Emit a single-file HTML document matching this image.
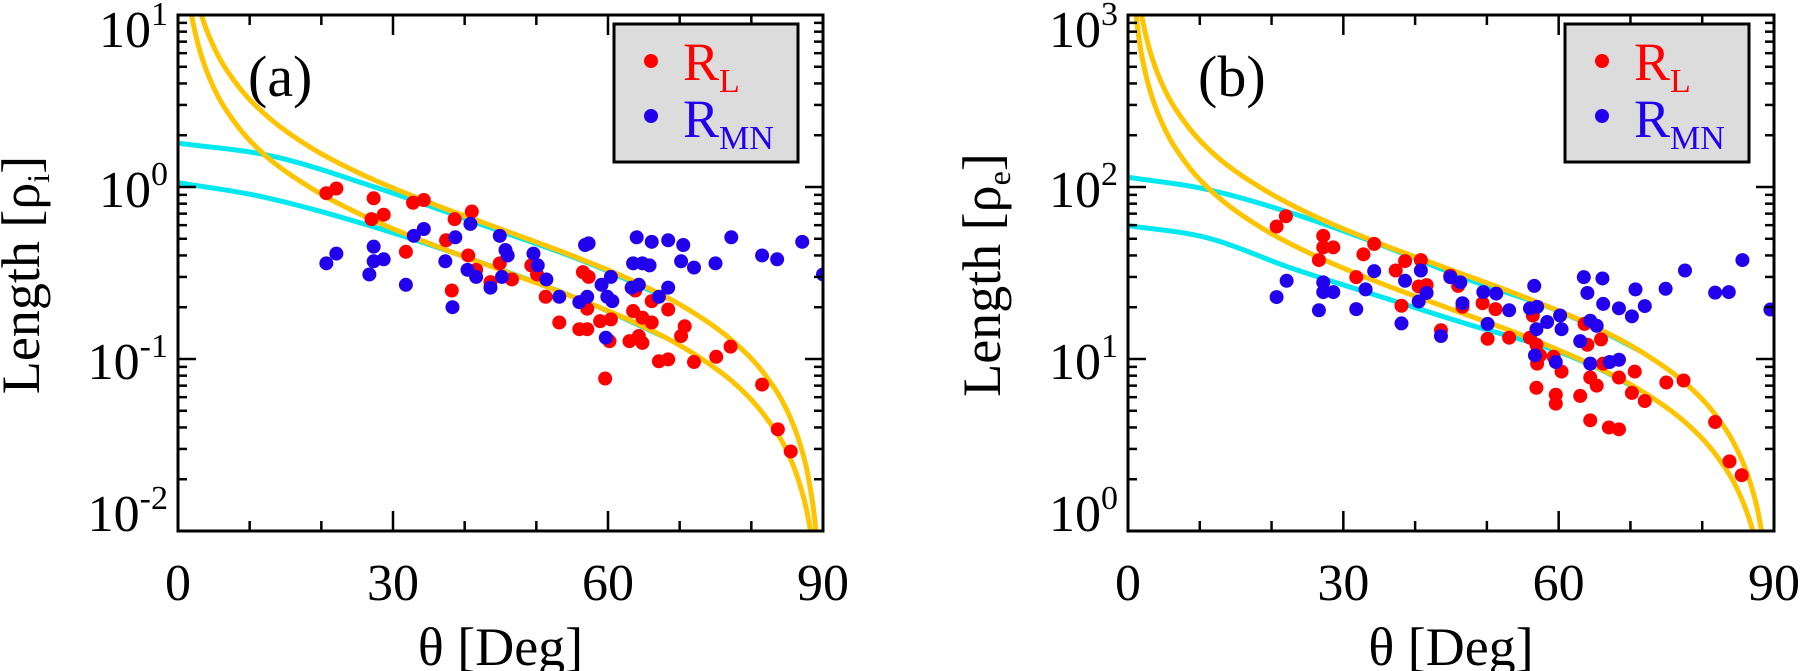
<!DOCTYPE html>
<html><head><meta charset="utf-8"><style>
html,body{margin:0;padding:0;background:#fff}
svg{display:block}
text{font-family:"Liberation Serif","Times New Roman","DejaVu Serif",serif;fill:#000}
</style></head><body>
<svg id="chart" xmlns="http://www.w3.org/2000/svg" width="1800" height="671" viewBox="0 0 1800 671" font-family="Liberation Serif, Times New Roman, serif">
</svg>
<script>
// ---------- Panel (a) data ----------
const redA_theta=[20.7,22.1,27.3,27.0,28.7,32.8,34.3,31.8,37.4,38.6,41.0,38.2,40.5,41.6,43.6,44.9,46.6,49.3,50.1,51.3,53.2,56.0,57.1,56.5,57.3,57.1,58.9,60.4,60.2,59.6,63.0,64.3,64.8,63.8,63.5,64.8,66.1,66.1,68.4,67.1,68.4,70.7,70.2,72.0,75.1,77.1,81.5,83.7,85.5];
const redA_val=[0.92,0.98,0.86,0.65,0.69,0.81,0.84,0.42,0.49,0.65,0.72,0.25,0.40,0.33,0.28,0.36,0.29,0.35,0.31,0.23,0.163,0.149,0.149,0.32,0.30,0.196,0.166,0.17,0.127,0.077,0.127,0.136,0.124,0.25,0.19,0.174,0.217,0.163,0.194,0.097,0.0995,0.155,0.136,0.096,0.103,0.118,0.071,0.039,0.029];
const blueA_theta=[20.7,22.1,27.3,27.3,28.7,26.7,31.8,34.3,32.9,37.3,38.7,40.8,38.3,40.4,41.6,43.6,44.9,45.7,46.0,45.2,49.6,50.2,51.4,53.2,56.0,56.8,57.3,57.1,59.1,60.4,59.9,60.6,59.7,63.3,63.5,64.8,65.8,64.3,64.0,66.1,68.4,70.5,70.2,72.0,75.0,67.1,68.4,77.2,81.5,83.6,87.1,90.0];
const blueA_val=[0.36,0.41,0.45,0.37,0.38,0.31,0.27,0.57,0.52,0.37,0.51,0.61,0.20,0.33,0.30,0.26,0.52,0.43,0.40,0.30,0.41,0.35,0.29,0.23,0.214,0.46,0.47,0.23,0.27,0.30,0.23,0.217,0.133,0.26,0.36,0.36,0.35,0.27,0.51,0.48,0.49,0.46,0.37,0.34,0.36,0.23,0.26,0.51,0.40,0.38,0.48,0.31];
const curveTheta=[1,1.5,2,3,5,8,12,18,25,35,45,55,65,72,78,82,85,87,88,89,89.5];
const orangeUpA_val=[32.7,21.8,16.3,10.9,6.52,4.06,2.68,1.75,1.22,0.814,0.57,0.399,0.266,0.185,0.121,0.080,0.050,0.030,0.020,0.0100,0.0050];
const orangeLoA_val=[18.9,12.6,9.45,6.30,3.77,2.35,1.55,1.02,0.708,0.471,0.33,0.231,0.154,0.107,0.070,0.046,0.029,0.0173,0.0115,0.0058,0.0029];
const cyanUpA_theta=[0,13.2,27.1,42.6,58.1,68.4];
const cyanUpA_val=[1.80,1.51,1.01,0.60,0.35,0.224];
const cyanLoA_theta=[0,11.6,27.1,42.6,58.1,68.4];
const cyanLoA_val=[1.06,0.88,0.59,0.36,0.205,0.131];
const ticksA_exp=[1,0,-1,-2];
// ---------- Panel (b) data ----------
const redB_theta=[20.7,22.0,27.2,27.2,28.6,26.6,32.8,34.3,31.8,37.3,38.6,40.8,38.1,40.5,41.6,43.6,44.9,46.0,46.6,49.4,50.1,51.2,53.1,56.4,56.0,56.9,57.4,57.0,56.9,59.6,59.6,60.4,59.3,63.0,63.6,64.0,65.9,64.4,65.3,64.4,67.0,68.4,66.2,68.4,70.6,70.2,72.0,75.0,77.4,81.8,83.8,85.5];
const redB_val=[58.9,67.6,52.0,44.6,44.6,37.6,40.6,46.7,29.9,32.7,37.1,37.6,20.4,26.4,26.9,14.7,30.5,26.6,20.1,21.1,13.1,19.5,13.3,17.9,13.3,12.1,10.5,9.4,6.8,6.2,5.5,8.45,10.3,6.1,16.0,12.1,13.0,7.8,7.0,4.4,4.0,3.9,9.4,7.8,8.45,6.35,5.7,7.3,7.5,4.3,2.54,2.11];
const blueB_theta=[20.7,22.1,27.2,27.2,28.6,26.6,31.8,34.3,33.1,38.6,38.1,40.8,40.5,41.6,43.6,44.9,46.3,46.6,49.5,51.3,50.1,53.1,56.0,56.6,57.0,56.9,58.4,60.2,60.4,56.7,59.6,63.5,64.0,66.1,66.2,64.4,65.3,63.0,64.4,68.4,67.1,68.4,70.2,70.7,72.0,74.9,77.6,81.8,83.7,85.6,89.5];
const blueB_val=[22.9,28.5,27.9,24.5,24.5,19.2,19.5,32.4,25.4,28.5,16.1,32.7,21.6,24.2,13.6,29.9,27.9,21.1,24.5,24.0,16.0,19.2,19.7,26.6,20.1,14.9,16.4,17.9,14.9,10.5,9.6,29.9,24.2,29.4,20.9,16.7,15.6,12.7,9.4,9.9,9.6,19.7,17.7,25.4,20.3,25.6,32.7,24.3,24.5,37.6,19.4];
const orangeUpB_val=[1890,1260,945,630,377,235,155,102,70.8,47.1,33,23.1,15.4,10.7,7.02,4.64,2.89,1.73,1.15,0.576,0.288];
const orangeLoB_val=[1117,745,558,372,223,139,91.7,60.0,41.8,27.8,19.5,13.7,9.09,6.34,4.15,2.74,1.71,1.02,0.68,0.34,0.17];
const cyanUpB_theta=[0,10.9,23.0,35.1,47.2,59.3,65.3,71.4];
const cyanUpB_val=[114,97,70,46.3,29.2,19.5,15.0,11.1];
const cyanLoB_theta=[0,10.9,23.0,35.1,47.2,59.3,65.3,71.4];
const cyanLoB_val=[59.7,50.8,33.5,23.1,16.0,11.3,8.9,6.55];
const ticksB_exp=[3,2,1,0];
const xTickLabels=["0","30","60","90"];
const xTickValues=[0,30,60,90];

const NS="http://www.w3.org/2000/svg";
const FONT='"Liberation Serif","Times New Roman","DejaVu Serif",serif';
const svg=document.getElementById('chart');
function mk(tag,attrs,parent){const e=document.createElementNS(NS,tag);for(const k in attrs)e.setAttribute(k,attrs[k]);if(tag==='text')e.style.fontFamily=FONT;(parent||svg).appendChild(e);return e;}

function monotone(xs,ys){
  const n=xs.length,d=[],m=new Array(n);
  for(let i=0;i<n-1;i++)d.push((ys[i+1]-ys[i])/(xs[i+1]-xs[i]));
  m[0]=d[0];m[n-1]=d[n-2];
  for(let i=1;i<n-1;i++){m[i]=(d[i-1]*d[i]<=0)?0:(d[i-1]+d[i])/2;}
  for(let i=0;i<n-1;i++){
    if(d[i]===0){m[i]=0;m[i+1]=0;continue;}
    const a=m[i]/d[i],b=m[i+1]/d[i],s=a*a+b*b;
    if(s>9){const t=3/Math.sqrt(s);m[i]=t*a*d[i];m[i+1]=t*b*d[i];}
  }
  return function(x){
    let i=0;while(i<n-2&&x>xs[i+1])i++;
    const h=xs[i+1]-xs[i],t=(x-xs[i])/h,t2=t*t,t3=t2*t;
    return (2*t3-3*t2+1)*ys[i]+(t3-2*t2+t)*h*m[i]+(-2*t3+3*t2)*ys[i+1]+(t3-t2)*h*m[i+1];
  };
}

function drawPanel(cfg){
  const g=mk('g',{});
  
  
  const L=cfg.x0,R=cfg.x1,T=15,B=531;
  const lmin=cfg.expMin,lmax=cfg.expMax;
  const sx=t=>L+(t/90)*(R-L);
  const syl=l=>B-(l-lmin)/(lmax-lmin)*(B-T);
  const sy=v=>syl(Math.log10(v));
  const clipId='clip'+cfg.id;
  const cp=mk('clipPath',{id:clipId},g);
  mk('rect',{x:L,y:T,width:R-L,height:B-T},cp);
  const plot=mk('g',{'clip-path':'url(#'+clipId+')'},g);
  
  
  function curve(th,vals,color,name){
    const f=monotone(th,vals.map(v=>Math.log10(v)));
    const a=th[0],b=th[th.length-1];
    let d='';
    for(let t=a;t<=b+1e-9;t+=0.05){
      d+=(d?' L':'M')+sx(t).toFixed(2)+','+syl(f(t)).toFixed(2);
    }
    const p=mk('path',{d:d,fill:'none',stroke:color,'stroke-width':5,'stroke-linejoin':'round'},plot);
    
    
  }
  curve(cfg.cyanUp[0],cfg.cyanUp[1],'#00e8f0','cyan-curve-upper');
  curve(cfg.cyanLo[0],cfg.cyanLo[1],'#00e8f0','cyan-curve-lower');
  curve(curveTheta,cfg.orUp,'#ffc400','orange-curve-upper');
  curve(curveTheta,cfg.orLo,'#ffc400','orange-curve-lower');
  cfg.red[0].forEach((t,i)=>{
    const c=mk('circle',{cx:sx(t),cy:sy(cfg.red[1][i]),r:7,fill:'#ff0000'},plot);
    
    
  });
  cfg.blue[0].forEach((t,i)=>{
    const c=mk('circle',{cx:sx(t),cy:sy(cfg.blue[1][i]),r:7,fill:'#2200ee'},plot);
    
    
  });
  const box=mk('rect',{x:L,y:T,width:R-L,height:B-T,fill:'none',stroke:'#000','stroke-width':3},g);
  
  
  for(let t=0;t<=90;t+=10){
    const major=(t%30===0);const len=major?20:10;const x=sx(t);
    mk('line',{x1:x,y1:B,x2:x,y2:B-len,stroke:'#000','stroke-width':2.5},g);
    mk('line',{x1:x,y1:T,x2:x,y2:T+len,stroke:'#000','stroke-width':2.5},g);
  }
  xTickValues.forEach((v,i)=>{
    const tx=mk('text',{x:sx(v),y:600,'font-size':52,'text-anchor':'middle'},g);
    tx.textContent=xTickLabels[i];
    
    
  });
  for(let e=lmin;e<lmax;e++){
    for(let m=1;m<10;m++){
      const y=sy(m*Math.pow(10,e));const len=(m===1)?18:9;
      mk('line',{x1:L,y1:y,x2:L+len,y2:y,stroke:'#000','stroke-width':2.5},g);
      mk('line',{x1:R,y1:y,x2:R-len,y2:y,stroke:'#000','stroke-width':2.5},g);
    }
  }
  cfg.ticks.forEach(e=>{
    const y=sy(Math.pow(10,e));
    const off=(e===lmax)?32:(e===lmin?0:20);
    const tx=mk('text',{x:L-10,y:y+off,'font-size':52,'text-anchor':'end'},g);
    
    
    const a=mk('tspan',{},tx);a.textContent='10';
    const b=mk('tspan',{'font-size':34,dy:-22},tx);b.textContent=String(e);
  });
  const yt=mk('text',{x:0,y:0,'font-size':54,'text-anchor':'middle',transform:'translate('+cfg.yTitleX+',275) rotate(-90)'},g);
  
  
  const y1=mk('tspan',{},yt);y1.textContent='Length [ρ';
  const y2=mk('tspan',{'font-size':32,dy:10},yt);y2.textContent=cfg.sub;
  const y3=mk('tspan',{dy:-10},yt);y3.textContent=']';
  const xt=mk('text',{x:(L+R)/2,y:665,'font-size':54,'text-anchor':'middle'},g);
  xt.textContent='θ [Deg]';
  
  
  const pl=mk('text',{x:L+70,y:96,'font-size':58},g);
  pl.textContent=cfg.label;
  
  
  const lg=mk('g',{},g);
  
  
  const lx=R-209;
  mk('rect',{x:lx,y:24,width:184,height:138,fill:'#dcdcdc',stroke:'#000','stroke-width':3},lg);
  const e1=mk('g',{},lg);
  
  
  mk('circle',{cx:lx+37,cy:61,r:7,fill:'#ff0000'},e1);
  const t1=mk('text',{x:lx+69,y:80,'font-size':54,fill:'#ff0000'},e1);
  
  
  const t1a=mk('tspan',{fill:'#ff0000'},t1);t1a.textContent='R';
  const t1b=mk('tspan',{'font-size':34,dy:12,fill:'#ff0000'},t1);t1b.textContent='L';
  const e2=mk('g',{},lg);
  
  
  mk('circle',{cx:lx+37,cy:116,r:7,fill:'#2200ee'},e2);
  const t2=mk('text',{x:lx+69,y:137,'font-size':54,fill:'#2200ee'},e2);
  
  
  const t2a=mk('tspan',{fill:'#2200ee'},t2);t2a.textContent='R';
  const t2b=mk('tspan',{'font-size':34,dy:12,fill:'#2200ee'},t2);t2b.textContent='MN';
}
drawPanel({id:'a',name:'panel-a',x0:178,x1:823,expMin:-2,expMax:1,ticks:ticksA_exp,yTitleX:39,sub:'i',label:'(a)',
  red:[redA_theta,redA_val],blue:[blueA_theta,blueA_val],orUp:orangeUpA_val,orLo:orangeLoA_val,
  cyanUp:[cyanUpA_theta,cyanUpA_val],cyanLo:[cyanLoA_theta,cyanLoA_val]});
drawPanel({id:'b',name:'panel-b',x0:1128,x1:1774,expMin:0,expMax:3,ticks:ticksB_exp,yTitleX:1000,sub:'e',label:'(b)',
  red:[redB_theta,redB_val],blue:[blueB_theta,blueB_val],orUp:orangeUpB_val,orLo:orangeLoB_val,
  cyanUp:[cyanUpB_theta,cyanUpB_val],cyanLo:[cyanLoB_theta,cyanLoB_val]});
</script>
</body></html>
